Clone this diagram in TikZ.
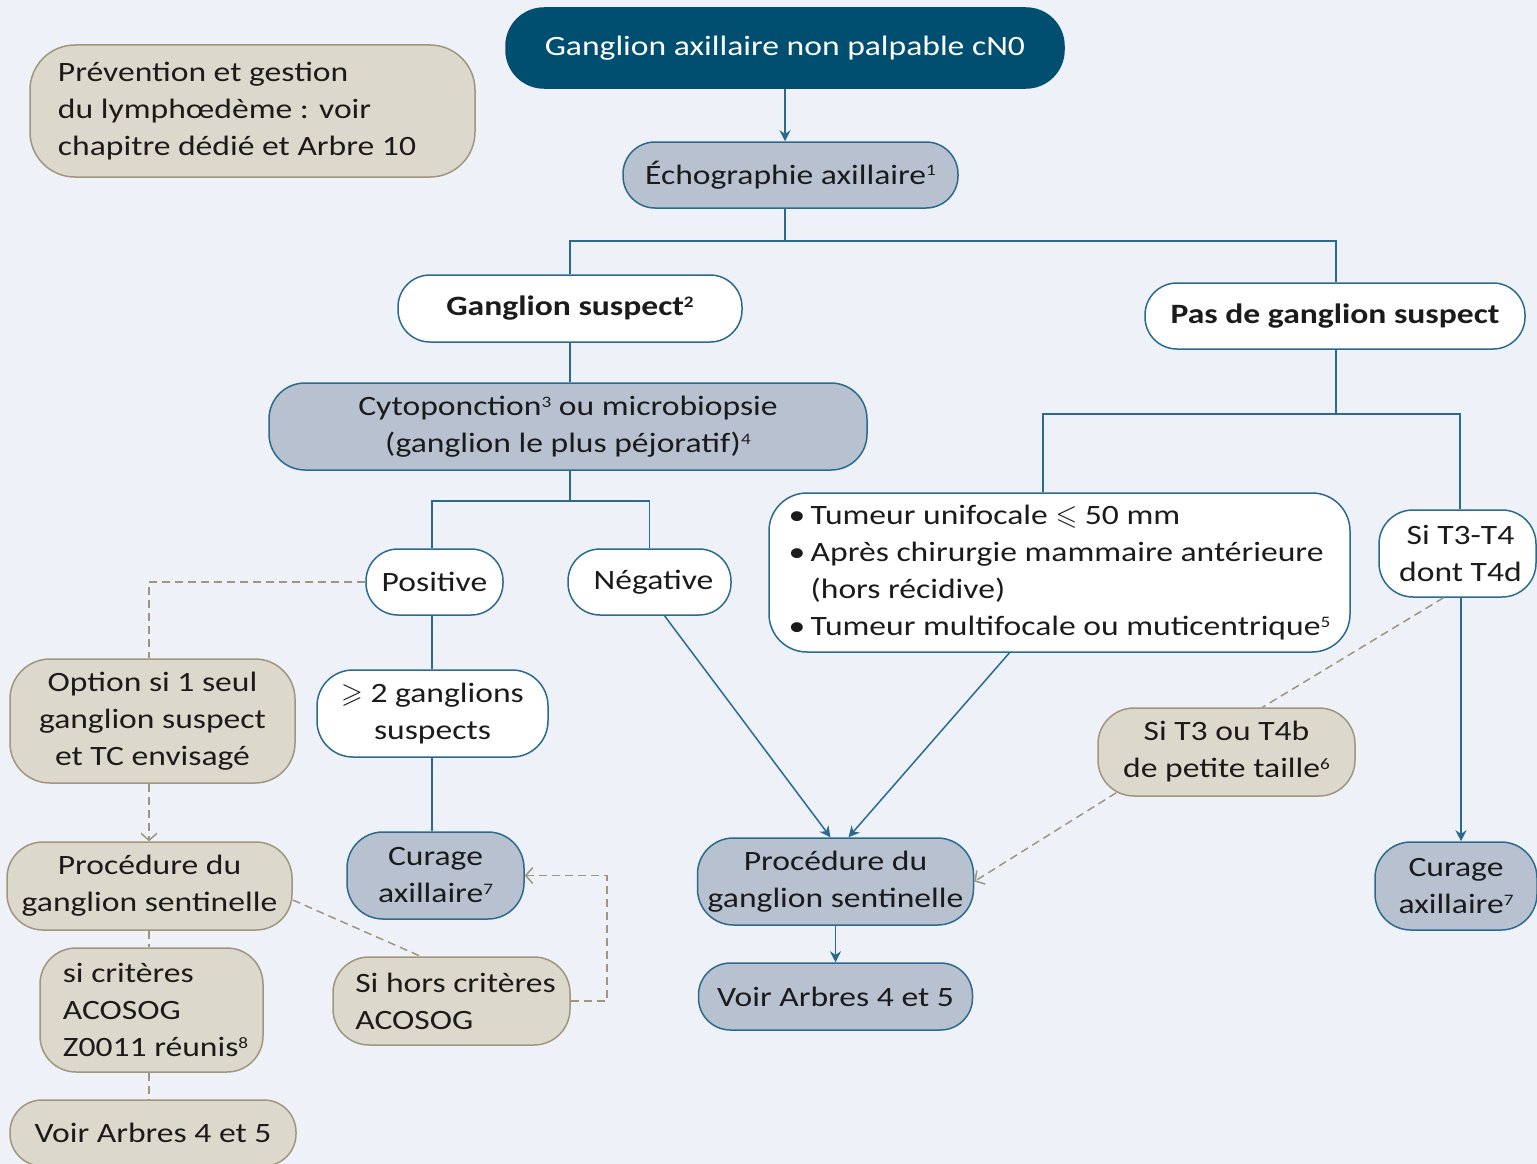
\documentclass[tikz,border=0pt]{standalone}
\usepackage{amssymb}
\usepackage{fontspec}
\setmainfont{Carlito}[FakeStretch=1.2]
\usetikzlibrary{arrows.meta,calc}
\definecolor{bgc}{HTML}{EEF2F8}
\definecolor{beigef}{HTML}{DCD8CC}
\definecolor{beiged}{HTML}{A0967E}
\definecolor{greyf}{HTML}{B8C1D0}
\definecolor{tealb}{HTML}{2A6A8C}
\definecolor{darkt}{HTML}{004F70}
\definecolor{txt}{HTML}{1B1B1B}
\newcommand{\supr}[1]{\raisebox{0.62ex}{\fontsize{16}{16}\selectfont #1}}
\begin{document}
\begin{tikzpicture}[x=1pt,y=-1pt,
  box/.style={rounded corners=30pt, line width=1.5pt, inner sep=0pt, align=center,
    font=\fontsize{28}{37}\selectfont, text=txt},
  sz/.style n args={2}{minimum width=#1pt, minimum height=#2pt},
  bei/.style={box, fill=beigef, draw=beiged},
  gry/.style={box, fill=greyf, draw=tealb},
  wht/.style={box, fill=white, draw=tealb},
  ln/.style={draw=tealb, line width=1.5pt},
  arr/.style={ln, -{Stealth[length=11pt,width=11pt]}},
  dsh/.style={draw=beiged, line width=1.5pt, dash pattern=on 8pt off 5pt},
  darr/.style={dsh, -{Straight Barb[length=7pt,width=16pt]}},
]
\fill[bgc] (0,0) rectangle (1537,1164);
\useasboundingbox (0,0) rectangle (1537,1164);

% nodes
\node[bei, rounded corners=45pt, align=left, sz={445}{132}] (prev) at (252.5,111)
  {Prévention et gestion\\du lymphœdème : voir\\chapitre dédié et Arbre 10\hspace*{31pt}};
\node[box, fill=darkt, draw=darkt, text=white, sz={558}{80}, rounded corners=38pt] (top) at (785,48)
  {Ganglion axillaire non palpable cN0};
\node[gry, sz={335}{66}, rounded corners=32pt] (echo) at (790.5,175) {Échographie axillaire\supr{1}};
\node[wht, sz={344}{67}, rounded corners=32pt, font=\fontsize{28}{37}\selectfont\bfseries] (gs) at (570,308.5) {Ganglion suspect\supr{2}};
\node[wht, sz={380}{66}, rounded corners=32pt, font=\fontsize{28}{37}\selectfont\bfseries] (pds) at (1335,316) {Pas de ganglion suspect};
\node[gry, sz={598}{87}, rounded corners=36pt] (cyto) at (568,426.5)
  {Cytoponction\supr{3} ou microbiopsie\\(ganglion le plus péjoratif)\supr{4}};
\node[wht, sz={137}{66}, rounded corners=32pt] (pos) at (434.5,582) {Positive};
\node[wht, sz={163}{66}, rounded corners=32pt] (neg) at (649.5,582) {\hspace*{8pt}Négative};
\node[wht, rounded corners=38pt, align=left, sz={581}{159}] (bul) at (1059.5,572.5)
  {\makebox[22pt][l]{•}Tumeur unifocale $\leqslant$ 50 mm\\
   \makebox[22pt][l]{•}Après chirurgie mammaire antérieure\\
   \hspace*{22pt}(hors récidive)\\
   \makebox[22pt][l]{•}Tumeur multifocale ou muticentrique\supr{5}};
\node[wht, sz={157}{87}, rounded corners=34pt] (t34) at (1457.5,553.5) {\hspace*{6pt}Si T3-T4\\\hspace*{6pt}dont T4d};
\node[bei, sz={285}{124}, rounded corners=40pt] (opt) at (152.5,721) {Option si 1 seul\\ganglion suspect\\et TC envisagé};
\node[wht, sz={231}{87}, rounded corners=36pt] (ge2) at (432.5,713.5) {$\geqslant$ 2 ganglions\\suspects};
\node[gry, sz={177}{87}, rounded corners=36pt] (cur1) at (435.5,875.5) {Curage\\axillaire\supr{7}};
\node[bei, sz={285}{88}, rounded corners=36pt] (psg1) at (149.5,886) {Procédure du\\ganglion sentinelle};
\node[bei, rounded corners=36pt, align=left, sz={223}{124}] (crit) at (151.5,1010)
  {\hspace*{8pt}si critères\\\hspace*{8pt}ACOSOG\\\hspace*{8pt}Z0011 réunis\supr{8}};
\node[bei, sz={286}{66}, rounded corners=32pt] (voir1) at (153,1133) {Voir Arbres 4 et 5};
\node[bei, rounded corners=36pt, align=left, sz={237}{88}] (hors) at (451.5,1001)
  {\hspace*{8pt}Si hors critères\\\hspace*{8pt}ACOSOG};
\node[gry, sz={276}{87}, rounded corners=36pt] (psg2) at (835.5,881.5) {Procédure du\\ganglion sentinelle};
\node[gry, sz={274}{67}, rounded corners=32pt] (voir2) at (835.5,996.5) {Voir Arbres 4 et 5};
\node[gry, sz={162}{88}, rounded corners=36pt] (cur2) at (1456,886) {Curage\\axillaire\supr{7}};
\node[bei, sz={257}{88}, rounded corners=36pt] (t3b) at (1226.5,752) {Si T3 ou T4b\\de petite taille\supr{6}};

% solid connectors
\coordinate (s1) at (785,241);
\coordinate (s2) at (570,501);
\coordinate (s3) at (1336,414);
\coordinate (b3) at (1043,414);
\draw[arr] (top.south -| 785,0) -- (echo.north -| 785,0);
\draw[ln] (echo.south -| 785,0) -- (s1);
\draw[ln] (gs.north) |- (s1) -| (pds.north -| s3);
\draw[ln] (gs.south) -- (cyto.north -| gs.south);
\draw[ln] (cyto.south -| s2) -- (s2);
\draw[ln] (pos.north -| 432,0) |- (s2) -| (neg.north);
\draw[ln] (pds.south -| s3) -- (s3);
\draw[ln] (b3 |- bul.north) -- (b3) -- (s3) -| (t34.north -| 1460,0);
\draw[ln] (pos.south -| 432,0) -- (ge2.north -| 432,0);
\draw[ln] (ge2.south -| 432,0) -- (cur1.north -| 432,0);
\draw[arr] ($(neg.south)+(15,0)$) -- ($(psg2.north)+(-5,0)$);
\draw[arr] ($(bul.south)+(-50,0)$) -- ($(psg2.north)+(13,0)$);
\draw[arr] (psg2.south) -- (voir2.north);
\draw[arr] (t34.south -| 1461,0) -- (cur2.north -| 1461,0);

% dashed connectors
\draw[dsh] (pos.west) -| (opt.north -| 149,0);
\draw[darr] (opt.south -| 149,0) -- (psg1.north -| 149,0);
\draw[dsh] (psg1.south -| 149,0) -- (crit.north -| 149,0);
\draw[dsh] (crit.south -| 149,0) -- (voir1.north -| 149,0);
\draw[dsh] ($(psg1.east)+(0,14)$) -- ($(hors.north)+(-31,0)$);
\draw[darr] (hors.east) -- ++(36,0) |- (cur1.east);
\draw[dsh] ($(t34.south)+(-14,0)$) -- ($(t3b.north)+(36,0)$);
\draw[darr] ($(t3b.south west)+(19,-4)$) -- (psg2.east);
\end{tikzpicture}
\end{document}
